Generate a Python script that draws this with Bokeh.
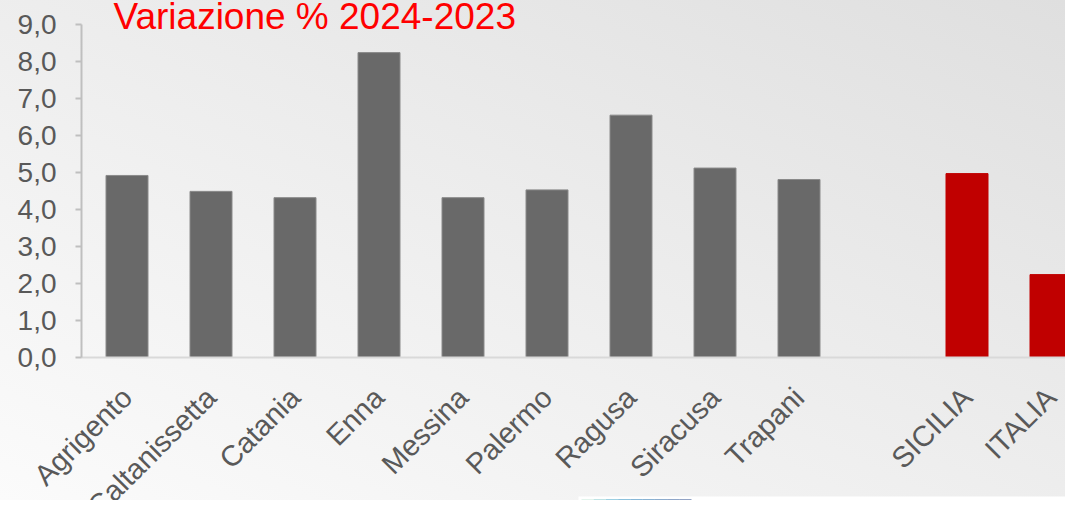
import math
from bokeh.plotting import figure
from bokeh.models import (ColumnDataSource, Range1d, FixedTicker, Label, BoxAnnotation,
                          LinearAxis)
from bokeh.core.properties import value
from bokeh.embed import file_html
from bokeh.resources import INLINE

# ---- data ----
provinces = ["Agrigento", "Caltanissetta", "Catania", "Enna", "Messina",
             "Palermo", "Ragusa", "Siracusa", "Trapani"]
province_values = [4.92, 4.49, 4.32, 8.24, 4.32, 4.53, 6.55, 5.12, 4.81]
totals = ["SICILIA", "ITALIA"]
total_values = [4.97, 2.24]
y_ticks = [0, 1, 2, 3, 4, 5, 6, 7, 8, 9]
y_tick_labels = ["0,0", "1,0", "2,0", "3,0", "4,0", "5,0", "6,0", "7,0", "8,0", "9,0"]
title_text = "Variazione % 2024-2023"

# ---- styles ----
GRAY = "#696969"
GRAY_LINE = "#8a8a8a"
RED = "#C00000"
FONT = "Liberation Sans"
LABEL_COLOR = "#595959"

# positions: provinces, an empty slot, then the totals
x_prov = list(range(len(provinces)))
x_tot = [len(provinces) + 1 + i for i in range(len(totals))]
x_all = x_prov + x_tot
names_all = provinces + totals

bars = ColumnDataSource(dict(
    x=x_all,
    top=province_values + total_values,
    fill=[GRAY] * len(provinces) + [RED] * len(totals),
    line=[GRAY_LINE] * len(provinces) + [RED] * len(totals),
))
labels = ColumnDataSource(dict(x=x_all, y=[0] * len(x_all), text=names_all))

# ---- layout (pixels) ----
W, H = 1065, 500
AXIS_PX = 81             # y axis line
STEP = 84.0              # px per category
X_HALF = 84.5            # px where x = -0.5
Y0 = 357.0               # px where y = 0
PX_PER_UNIT = 37.0


def px_to_x(px):
    return -0.5 + (px - X_HALF) / STEP


def py_to_y(py):
    return (Y0 - py) / PX_PER_UNIT


p = figure(width=W, height=H, output_backend="svg", toolbar_location=None,
           x_range=Range1d(px_to_x(0), px_to_x(W)),
           y_range=Range1d(py_to_y(H), py_to_y(0)),
           x_axis_location=None,
           min_border_left=0, min_border_right=0,
           min_border_top=0, min_border_bottom=0)
p.outline_line_color = None
p.background_fill_alpha = 0
p.border_fill_alpha = 0
p.styles = {"background": "linear-gradient(to top right, #fbfbfb 0%, #ececec 55%, #dfdfdf 100%)"}
p.grid.visible = False

# x axis: only its line, drawn at y = 0 starting from the y axis
xa = LinearAxis(fixed_location=0, ticker=FixedTicker(ticks=[]),
                bounds=(px_to_x(AXIS_PX), px_to_x(W)))
xa.axis_line_color = "#d9d9d9"
xa.axis_line_width = 2
xa.major_tick_line_color = None
xa.minor_tick_line_color = None
xa.major_label_text_color = None
p.add_layout(xa, "below")

p.vbar(x="x", top="top", width=0.5, source=bars,
       fill_color="fill", line_color="line", line_width=1)

# category labels, rotated 45 degrees
p.text(x="x", y="y", text="text", source=labels, angle=math.pi / 4,
       text_align="right", text_baseline="middle", y_offset=35,
       text_font=value(FONT), text_font_size="29px", text_color=LABEL_COLOR)

# y axis (drawn at a fixed location inside the frame)
ya = p.yaxis[0]
ya.fixed_location = px_to_x(AXIS_PX)
ya.ticker = FixedTicker(ticks=y_ticks)
ya.major_label_overrides = {t: l for t, l in zip(y_ticks, y_tick_labels)}
ya.bounds = (0, 9)
ya.axis_line_color = "#bfbfbf"
ya.axis_line_width = 2
ya.major_tick_line_color = "#bfbfbf"
ya.major_tick_line_width = 2
ya.major_tick_out = 6
ya.major_tick_in = 0
ya.minor_tick_line_color = None
ya.major_label_standoff = 19
ya.major_label_text_font = FONT
ya.major_label_text_font_size = "28px"
ya.major_label_text_color = LABEL_COLOR

# title
p.add_layout(Label(x=px_to_x(113), y=py_to_y(16), text=title_text,
                   text_font=FONT, text_font_size="37px", text_color="#FF0000",
                   text_align="left", text_baseline="alphabetic"))

# white strip with a logo fragment at the bottom
p.add_layout(BoxAnnotation(left=px_to_x(578), right=px_to_x(1100),
                           bottom=py_to_y(520), top=py_to_y(496),
                           fill_color="white", fill_alpha=1, line_color=None))
logo_colors = ["#c5e9d9", "#7cc7cb", "#3aa1c4", "#1b85ba", "#1070b0",
               "#1466a7", "#1b5b9d", "#214f92", "#26488a"]
step = (691 - 581) / len(logo_colors)
for i, c in enumerate(logo_colors):
    p.add_layout(BoxAnnotation(left=px_to_x(581 + i * step), right=px_to_x(581 + (i + 1) * step),
                               bottom=py_to_y(520), top=py_to_y(499),
                               fill_color=c, fill_alpha=1, line_color=None))

open("out.html", "w").write(file_html(p, INLINE))
